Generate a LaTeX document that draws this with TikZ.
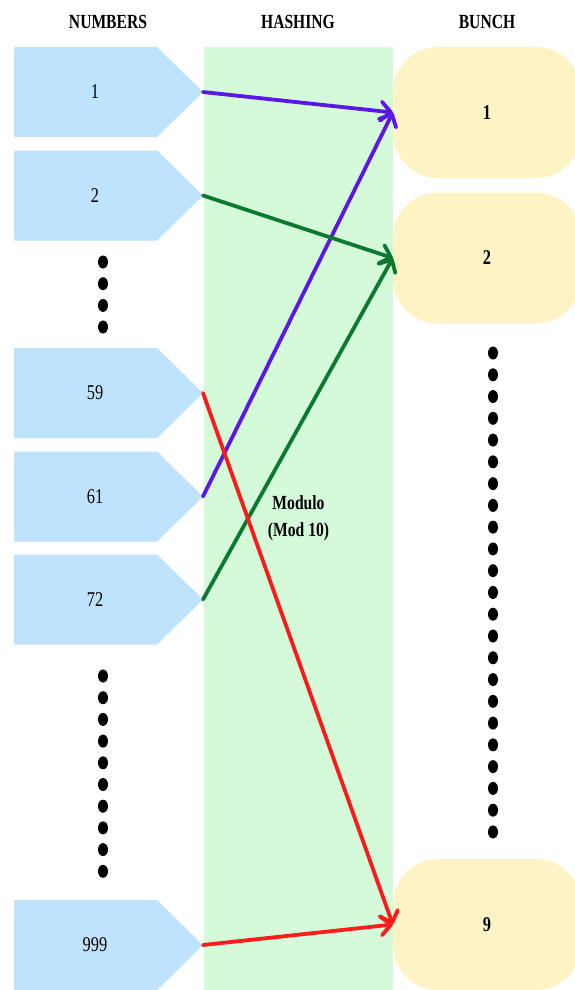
\documentclass[tikz,border=0pt]{standalone}
\usepackage{fontspec}
\setmainfont{Liberation Serif}[FakeStretch=0.78]
\usetikzlibrary{arrows.meta}

\definecolor{numfill}{HTML}{C0E3FD}
\definecolor{hashfill}{HTML}{D5FAD9}
\definecolor{bunchfill}{HTML}{FEF3C5}
\definecolor{violetline}{HTML}{5B16E8}
\definecolor{greenline}{HTML}{0B7A30}
\definecolor{redline}{HTML}{FC1C1C}

% pentagon-shaped number box: name, centre y, label
\newcommand\numberbox[3]{%
  \fill[numfill] (14,#2-45) -- (157,#2-45) -- (203,#2) -- (157,#2+45) -- (14,#2+45) -- cycle;
  \node[numlabel] (#1) at (95,#2) {#3};
  \coordinate (#1-tip) at (203,#2);
}

\begin{document}
\begin{tikzpicture}[x=1pt,y=-1pt,
  header/.style={font=\bfseries\fontsize{20}{23}\selectfont, inner sep=0},
  numlabel/.style={font=\fontsize{21}{24}\selectfont, inner sep=0},
  hashband/.style={fill=hashfill, minimum width=189pt, minimum height=943pt,
    inner sep=0, align=center, font=\bfseries\fontsize{20}{27}\selectfont},
  bunchbox/.style={fill=bunchfill, rounded corners=45pt, minimum width=188pt,
    minimum height=131pt, inner sep=0, font=\bfseries\fontsize{21}{24}\selectfont},
  link/.style={line width=3.8pt, line cap=round, line join=round,
    -{Straight Barb[length=10pt,width=19pt,round]}},
  dotmark/.style={fill=black}
]
\useasboundingbox (0,0) rectangle (575,990);
\clip (0,0) rectangle (575,990);
\fill[white] (0,0) rectangle (575,990);

% column headers
\node[header] (hnum)  at (108,21.5) {NUMBERS};
\node[header] (hhash) at (298,21.5) {HASHING};
\node[header] (hbun)  at (487,21.5) {BUNCH};

% hashing band
\node[hashband] (hash) at (298.5,518.5) {Modulo\\(Mod 10)};

% input numbers
\numberbox{n1}{92}{1}
\numberbox{n2}{195.5}{2}
\numberbox{n59}{393}{59}
\numberbox{n61}{496.5}{61}
\numberbox{n72}{599.5}{72}
\numberbox{n999}{945}{999}

% buckets
\node[bunchbox] (b1) at (487,112.5) {1};
\node[bunchbox] (b2) at (487,258) {2};
\node[bunchbox] (b9) at (487,924.5) {9};

% ellipsis dots
\foreach \y in {262,283.7,305.4,327}
  \fill[dotmark] (103,\y) ellipse [x radius=5pt, y radius=6.5pt];
\foreach \i in {0,...,9}
  \fill[dotmark] (103,676+21.7*\i) ellipse [x radius=5pt, y radius=6.5pt];
\foreach \i in {0,...,22}
  \fill[dotmark] (493,353+21.77*\i) ellipse [x radius=5pt, y radius=6.5pt];

% hash mappings
\draw[link, violetline] (n1-tip) -- (b1.west);
\draw[link, violetline] (n61-tip) -- (b1.west);
\draw[link, greenline] (n2-tip) -- (b2.west);
\draw[link, greenline] (n72-tip) -- (b2.west);
\draw[link, redline] (n59-tip) -- (b9.west);
\draw[link, redline] (n999-tip) -- (b9.west);
\end{tikzpicture}
\end{document}
